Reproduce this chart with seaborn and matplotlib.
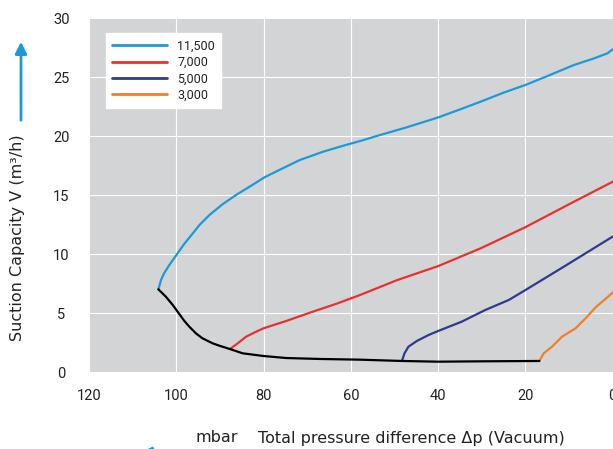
import matplotlib

matplotlib.use("Agg")

import matplotlib.pyplot as plt
import pandas as pd
import seaborn as sns

# Pressure difference (mbar) and suction capacity (m3/h) per pump speed
P_11500 = [104.1, 103.5, 102.8, 101.6, 99.7, 98.2, 96.2, 94.7, 92.4, 89.4, 86.3, 83.2,
           79.8, 75.6, 71.7, 66.4, 62.5, 57.9, 53.3, 47.2, 39.9, 34.9, 30.3, 25.0,
           20.0, 15.0, 8.9, 4.3, 1.2, 0.0]
V_11500 = [7.03, 7.82, 8.39, 9.09, 10.08, 10.87, 11.78, 12.48, 13.33, 14.24, 15.03, 15.73,
           16.52, 17.29, 17.99, 18.69, 19.12, 19.6, 20.11, 20.76, 21.61, 22.29, 22.93, 23.7,
           24.35, 25.1, 26.04, 26.6, 27.03, 27.37]

P_7000 = [87.7, 85.9, 84.0, 81.7, 80.0, 74.8, 68.7, 63.3, 57.9, 49.5, 40.0, 30.3, 20.0, 9.7, 0.0]
V_7000 = [1.97, 2.46, 3.02, 3.44, 3.73, 4.35, 5.14, 5.81, 6.55, 7.8, 9.0, 10.5, 12.3, 14.3, 16.15]

P_5000 = [48.3, 47.7, 46.8, 44.9, 42.2, 40.0, 34.6, 29.2, 23.8, 20.0, 11.2, 0.0]
V_5000 = [0.96, 1.61, 2.17, 2.65, 3.16, 3.5, 4.29, 5.28, 6.13, 6.97, 8.95, 11.5]

P_3000 = [16.8, 15.8, 13.9, 11.6, 8.5, 6.2, 3.9, 0.0]
V_3000 = [0.96, 1.61, 2.17, 3.02, 3.73, 4.58, 5.51, 6.75]

P_LIMIT = [104.1, 102.4, 100.8, 99.7, 98.2, 97.0, 95.5, 94.0, 91.7, 90.1, 87.7, 84.8,
           80.0, 74.8, 67.1, 57.9, 48.3, 40.0, 30.3, 16.8]
V_LIMIT = [7.03, 6.41, 5.7, 5.14, 4.37, 3.86, 3.3, 2.88, 2.46, 2.25, 1.97, 1.61,
           1.38, 1.21, 1.13, 1.07, 0.96, 0.9, 0.93, 0.96]

SPEED_LABELS = ["11,500", "7,000", "5,000", "3,000"]
SPEED_COLORS = ["#1a9bd7", "#e8312f", "#2e3a8c", "#f07f2a"]
X_TICKS = [120, 100, 80, 60, 40, 20, 0]
Y_TICKS = [0, 5, 10, 15, 20, 25, 30]

sns.set_style(
    "darkgrid",
    {"axes.facecolor": "#d3d4d6", "grid.color": "white", "grid.linewidth": 1.8},
)
plt.rcParams["font.family"] = ["Roboto", "DejaVu Sans"]
plt.rcParams["text.color"] = "#222222"

frames = []
for label, xs, ys in zip(
    SPEED_LABELS,
    [P_11500, P_7000, P_5000, P_3000],
    [V_11500, V_7000, V_5000, V_3000],
):
    frames.append(pd.DataFrame({"p": xs, "v": ys, "speed": label}))
curves = pd.concat(frames, ignore_index=True)
limit = pd.DataFrame({"p": P_LIMIT, "v": V_LIMIT})

fig = plt.figure(figsize=(6.13, 4.49), dpi=100)
ax = fig.add_axes([89 / 613, 76.7 / 449, 523.7 / 613, 354 / 449])

sns.lineplot(
    data=curves, x="p", y="v", hue="speed", hue_order=SPEED_LABELS,
    palette=SPEED_COLORS, estimator=None, sort=False, linewidth=1.6, ax=ax,
)
sns.lineplot(data=limit, x="p", y="v", color="black", estimator=None,
             sort=False, linewidth=1.6, ax=ax, legend=False)

ax.set_xlim(120, 0)
ax.set_ylim(0, 30)
ax.set_xticks(X_TICKS)
ax.set_yticks(Y_TICKS)
ax.set_xlabel("")
ax.set_ylabel("")
for spine in ax.spines.values():
    spine.set_visible(False)
ax.tick_params(axis="both", length=0, labelsize=10.5, labelcolor="#222222")
ax.tick_params(axis="x", pad=12)
ax.tick_params(axis="y", pad=20)
for lab in ax.get_yticklabels():
    lab.set_horizontalalignment("center")

leg = ax.legend(
    loc="upper left", bbox_to_anchor=(17 / 523.7, 1 - 15 / 354), borderaxespad=0,
    fontsize=9, handlelength=4.4, handletextpad=0.8, labelspacing=0.27,
    borderpad=0.5, frameon=True, fancybox=False, framealpha=1,
)
leg.get_frame().set_facecolor("white")
leg.get_frame().set_edgecolor("white")
for line in leg.get_lines():
    line.set_linewidth(2.0)

label_font = {"family": "DejaVu Sans", "size": 11.5}
fig.text(18 / 613, 1 - 238 / 449, "Suction Capacity V (m³/h)", rotation=90,
         ha="center", va="center", fontdict=label_font)
fig.text(195 / 613, 1 - 438 / 449, "mbar", ha="left", va="center", fontdict=label_font)
fig.text(258 / 613, 1 - 438 / 449, "Total pressure difference Δp (Vacuum)",
         ha="left", va="center", fontdict=label_font)

arrow = dict(arrowstyle="-|>,head_length=0.7,head_width=0.35", color="#1a9bd7", lw=2)
ax.annotate("", xy=(21, 449 - 39), xytext=(21, 449 - 123),
            xycoords="figure pixels", textcoords="figure pixels",
            arrowprops=arrow, annotation_clip=False)
ax.annotate("", xy=(137, -4), xytext=(230, -4),
            xycoords="figure pixels", textcoords="figure pixels",
            arrowprops=arrow, annotation_clip=False)

fig.savefig("out.png", dpi=100)
